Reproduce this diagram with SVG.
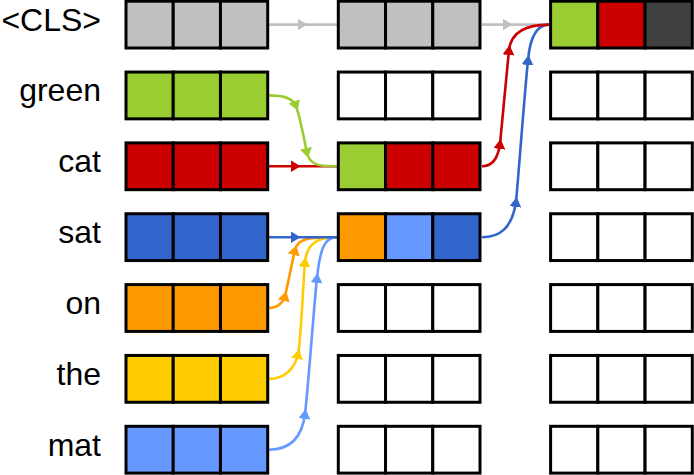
<svg xmlns="http://www.w3.org/2000/svg" width="694" height="475" viewBox="0 0 694 475">
<style>
.c{stroke:#000;stroke-width:3}
.w{fill:#fff}.g{fill:#c0c0c0}.gr{fill:#9acd32}.r{fill:#cc0000}.b{fill:#3366cc}.o{fill:#ff9900}.y{fill:#ffcc00}.lb{fill:#6699ff}.d{fill:#404040}
.lbl{font-family:"Liberation Sans",Arial,sans-serif;font-size:32px;text-anchor:end;fill:#000}
.e{fill:none;stroke-width:2.6}
</style>
<defs>
<marker id="aG" viewBox="0 0 10 10" refX="5" refY="5" markerWidth="10" markerHeight="12" markerUnits="userSpaceOnUse" orient="auto" preserveAspectRatio="none"><path d="M0,0L10,5L0,10z" fill="#c0c0c0"/></marker>
<marker id="aGr" viewBox="0 0 10 10" refX="5" refY="5" markerWidth="10" markerHeight="12" markerUnits="userSpaceOnUse" orient="auto" preserveAspectRatio="none"><path d="M0,0L10,5L0,10z" fill="#9acd32"/></marker>
<marker id="aR" viewBox="0 0 10 10" refX="5" refY="5" markerWidth="10" markerHeight="12" markerUnits="userSpaceOnUse" orient="auto" preserveAspectRatio="none"><path d="M0,0L10,5L0,10z" fill="#cc0000"/></marker>
<marker id="aB" viewBox="0 0 10 10" refX="5" refY="5" markerWidth="10" markerHeight="12" markerUnits="userSpaceOnUse" orient="auto" preserveAspectRatio="none"><path d="M0,0L10,5L0,10z" fill="#3366cc"/></marker>
<marker id="aO" viewBox="0 0 10 10" refX="5" refY="5" markerWidth="10" markerHeight="12" markerUnits="userSpaceOnUse" orient="auto" preserveAspectRatio="none"><path d="M0,0L10,5L0,10z" fill="#ff9900"/></marker>
<marker id="aY" viewBox="0 0 10 10" refX="5" refY="5" markerWidth="10" markerHeight="12" markerUnits="userSpaceOnUse" orient="auto" preserveAspectRatio="none"><path d="M0,0L10,5L0,10z" fill="#ffcc00"/></marker>
<marker id="aLB" viewBox="0 0 10 10" refX="5" refY="5" markerWidth="10" markerHeight="12" markerUnits="userSpaceOnUse" orient="auto" preserveAspectRatio="none"><path d="M0,0L10,5L0,10z" fill="#6699ff"/></marker>
</defs>
<rect width="694" height="475" fill="#fff"/>
<g id="connectors">
<path class="e" stroke="#c0c0c0" marker-mid="url(#aG)" d="M269,24.6L302.5,24.6L337,24.6"/>
<path class="e" stroke="#c0c0c0" marker-mid="url(#aG)" d="M482,24.6L507.5,24.6L549,24.6"/>
<path class="e" stroke="#cc0000" marker-mid="url(#aR)" d="M269,166.3L295.5,166.3L337,166.3"/>
<path class="e" stroke="#9acd32" marker-mid="url(#aGr)" d="M269,95.4C283,95.4 293,98 296,106C300,117 304,138 307,153C310,165 318,166.3 337,166.3"/>
<path class="e" stroke="#ff9900" marker-mid="url(#aO)" d="M269,308C278,308 283.5,302 285,296C288,284 292,262 295,250C298,238 310,237.2 337,237.2"/>
<path class="e" stroke="#ffcc00" marker-mid="url(#aY)" d="M269,378.9C285,378.9 295,368 298,354C301,340 303,285 305,262C307,243 318,237.2 337,237.2"/>
<path class="e" stroke="#6699ff" marker-mid="url(#aLB)" d="M269,449.7C290,449.7 302,437 305,414C308,390 314,305 317,278C320,250 324,237.2 337,237.2"/>
<path class="e" stroke="#3366cc" marker-mid="url(#aB)" d="M269,237.2L295.5,237.2L337,237.2"/>
<path class="e" stroke="#3366cc" marker-mid="url(#aB)" d="M482,237.2C500,237.2 512,228 516,202C519,170 524,100 528,60C530,38 537,24.6 549,24.6"/>
<path class="e" stroke="#cc0000" marker-mid="url(#aR)" d="M482,166.3C492,166.3 498,158 500,144C502,125 506,80 509,50C511,33 525,24.6 549,24.6"/>
</g>
<g id="labels">
<text class="lbl" x="101" y="30.5">&lt;CLS&gt;</text>
<text class="lbl" x="101" y="101.35">green</text>
<text class="lbl" x="101" y="172.2">cat</text>
<text class="lbl" x="101" y="243.05">sat</text>
<text class="lbl" x="101" y="313.9">on</text>
<text class="lbl" x="101" y="384.75">the</text>
<text class="lbl" x="101" y="455.6">mat</text>
</g>
<g id="in-cls"><rect class="c g" x="126" y="1.2" width="47.23" height="46.8"/><rect class="c g" x="173.23" y="1.2" width="47.23" height="46.8"/><rect class="c g" x="220.47" y="1.2" width="47.23" height="46.8"/></g>
<g id="in-green"><rect class="c gr" x="126" y="72.05" width="47.23" height="46.8"/><rect class="c gr" x="173.23" y="72.05" width="47.23" height="46.8"/><rect class="c gr" x="220.47" y="72.05" width="47.23" height="46.8"/></g>
<g id="in-cat"><rect class="c r" x="126" y="142.9" width="47.23" height="46.8"/><rect class="c r" x="173.23" y="142.9" width="47.23" height="46.8"/><rect class="c r" x="220.47" y="142.9" width="47.23" height="46.8"/></g>
<g id="in-sat"><rect class="c b" x="126" y="213.75" width="47.23" height="46.8"/><rect class="c b" x="173.23" y="213.75" width="47.23" height="46.8"/><rect class="c b" x="220.47" y="213.75" width="47.23" height="46.8"/></g>
<g id="in-on"><rect class="c o" x="126" y="284.6" width="47.23" height="46.8"/><rect class="c o" x="173.23" y="284.6" width="47.23" height="46.8"/><rect class="c o" x="220.47" y="284.6" width="47.23" height="46.8"/></g>
<g id="in-the"><rect class="c y" x="126" y="355.45" width="47.23" height="46.8"/><rect class="c y" x="173.23" y="355.45" width="47.23" height="46.8"/><rect class="c y" x="220.47" y="355.45" width="47.23" height="46.8"/></g>
<g id="in-mat"><rect class="c lb" x="126" y="426.3" width="47.23" height="46.8"/><rect class="c lb" x="173.23" y="426.3" width="47.23" height="46.8"/><rect class="c lb" x="220.47" y="426.3" width="47.23" height="46.8"/></g>

<g id="l1-cls"><rect class="c g" x="338.3" y="1.2" width="47.23" height="46.8"/><rect class="c g" x="385.53" y="1.2" width="47.23" height="46.8"/><rect class="c g" x="432.77" y="1.2" width="47.23" height="46.8"/></g>
<g id="l1-green"><rect class="c w" x="338.3" y="72.05" width="47.23" height="46.8"/><rect class="c w" x="385.53" y="72.05" width="47.23" height="46.8"/><rect class="c w" x="432.77" y="72.05" width="47.23" height="46.8"/></g>
<g id="l1-cat"><rect class="c gr" x="338.3" y="142.9" width="47.23" height="46.8"/><rect class="c r" x="385.53" y="142.9" width="47.23" height="46.8"/><rect class="c r" x="432.77" y="142.9" width="47.23" height="46.8"/></g>
<g id="l1-sat"><rect class="c o" x="338.3" y="213.75" width="47.23" height="46.8"/><rect class="c lb" x="385.53" y="213.75" width="47.23" height="46.8"/><rect class="c b" x="432.77" y="213.75" width="47.23" height="46.8"/></g>
<g id="l1-on"><rect class="c w" x="338.3" y="284.6" width="47.23" height="46.8"/><rect class="c w" x="385.53" y="284.6" width="47.23" height="46.8"/><rect class="c w" x="432.77" y="284.6" width="47.23" height="46.8"/></g>
<g id="l1-the"><rect class="c w" x="338.3" y="355.45" width="47.23" height="46.8"/><rect class="c w" x="385.53" y="355.45" width="47.23" height="46.8"/><rect class="c w" x="432.77" y="355.45" width="47.23" height="46.8"/></g>
<g id="l1-mat"><rect class="c w" x="338.3" y="426.3" width="47.23" height="46.8"/><rect class="c w" x="385.53" y="426.3" width="47.23" height="46.8"/><rect class="c w" x="432.77" y="426.3" width="47.23" height="46.8"/></g>

<g id="l2-cls"><rect class="c gr" x="550.6" y="1.2" width="47.23" height="46.8"/><rect class="c r" x="597.83" y="1.2" width="47.23" height="46.8"/><rect class="c d" x="645.07" y="1.2" width="47.23" height="46.8"/></g>
<g id="l2-green"><rect class="c w" x="550.6" y="72.05" width="47.23" height="46.8"/><rect class="c w" x="597.83" y="72.05" width="47.23" height="46.8"/><rect class="c w" x="645.07" y="72.05" width="47.23" height="46.8"/></g>
<g id="l2-cat"><rect class="c w" x="550.6" y="142.9" width="47.23" height="46.8"/><rect class="c w" x="597.83" y="142.9" width="47.23" height="46.8"/><rect class="c w" x="645.07" y="142.9" width="47.23" height="46.8"/></g>
<g id="l2-sat"><rect class="c w" x="550.6" y="213.75" width="47.23" height="46.8"/><rect class="c w" x="597.83" y="213.75" width="47.23" height="46.8"/><rect class="c w" x="645.07" y="213.75" width="47.23" height="46.8"/></g>
<g id="l2-on"><rect class="c w" x="550.6" y="284.6" width="47.23" height="46.8"/><rect class="c w" x="597.83" y="284.6" width="47.23" height="46.8"/><rect class="c w" x="645.07" y="284.6" width="47.23" height="46.8"/></g>
<g id="l2-the"><rect class="c w" x="550.6" y="355.45" width="47.23" height="46.8"/><rect class="c w" x="597.83" y="355.45" width="47.23" height="46.8"/><rect class="c w" x="645.07" y="355.45" width="47.23" height="46.8"/></g>
<g id="l2-mat"><rect class="c w" x="550.6" y="426.3" width="47.23" height="46.8"/><rect class="c w" x="597.83" y="426.3" width="47.23" height="46.8"/><rect class="c w" x="645.07" y="426.3" width="47.23" height="46.8"/></g>
</svg>
